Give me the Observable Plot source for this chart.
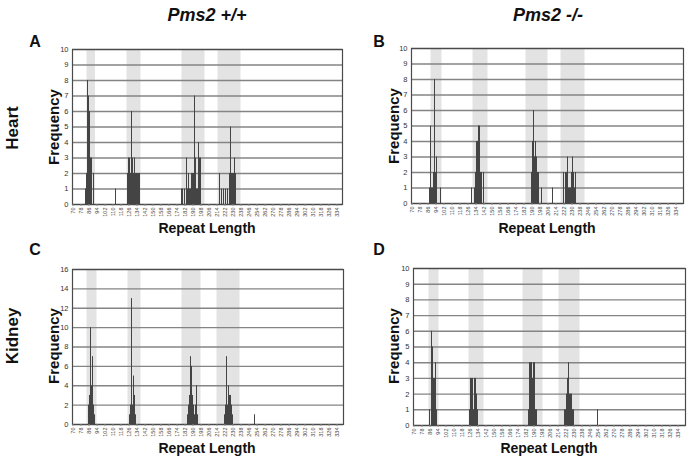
<!DOCTYPE html>
<html><head><meta charset="utf-8">
<script src="https://cdn.jsdelivr.net/npm/d3@7"></script>
<script src="https://cdn.jsdelivr.net/npm/@observablehq/plot@0.6"></script>
<style>
body{margin:0;background:#fff;font-family:"Liberation Sans",Arial,sans-serif;}
#wrap{position:relative;width:689px;height:460px;overflow:hidden;}
.t{position:absolute;font-weight:bold;color:#111;white-space:nowrap;}
.rot{transform:translate(-50%,-50%) rotate(-90deg);}
.ctr{transform:translate(-50%,-50%);}
svg{position:absolute;overflow:visible;}
</style></head><body><div id="wrap"></div>
<script>
// ---- tick labels ----
const xTickLabels = [70,78,86,94,102,110,118,126,134,142,150,158,166,174,182,190,198,206,214,222,230,238,246,254,262,270,278,286,294,302,310,318,326,334];
const yTicksHeart = [0,1,2,3,4,5,6,7,8,9,10];
const yTicksKidneyWT = [0,2,4,6,8,10,12,14,16];
const yTicksKidneyKO = [0,1,2,3,4,5,6,7,8,9,10];

// ---- A: Heart, Pms2 +/+ ----
const aLengths = [83,84,85,86,87,88,89,91,113,125,126,127,128,129,130,131,132,133,134,135,136,137,179,180,182,184,185,186,187,188,189,190,191,192,193,194,195,196,197,198,217,219,221,223,225,227,228,229,230,231,232,233];
const aCounts  = [1,2,8,7,6,3,3,2,1,2,3,3,2,6,3,2,3,2,2,2,2,2,1,1,1,3,1,2,1,1,2,2,2,7,3,1,1,4,3,3,2,1,1,1,1,2,5,2,2,2,3,2];
const aBandStart = [84,124,179,215];
const aBandEnd   = [92.5,138,202,238];

// ---- B: Heart, Pms2 -/- ----
const bLengths = [88,89,90,91,92,93,94,95,99,130,133,134,135,136,137,138,139,140,142,190,191,192,193,194,195,196,197,200,211,222,224,225,226,227,228,229,230,231,232,233,234];
const bCounts  = [1,5,1,1,2,8,2,3,1,1,1,2,4,4,5,5,2,2,2,2,4,6,3,4,3,2,2,1,1,2,2,2,3,1,1,1,2,3,2,1,2];
const bBandStart = [89,131,184,219];
const bBandEnd   = [100,146,206,243];

// ---- C: Kidney, Pms2 +/+ ----
const cLengths = [86,87,88,89,90,91,92,127,128,129,130,131,132,133,185,186,187,188,189,190,191,192,193,194,195,222,223,224,225,226,227,228,229,230,252];
const cCounts  = [2,3,10,4,7,2,1,1,2,13,2,5,3,1,1,2,3,7,6,3,2,1,2,4,1,1,2,7,2,4,3,3,2,1,1];
const cBandStart = [84,125,179,214];
const cBandEnd   = [94,138,198,237];

// ---- D: Kidney, Pms2 -/- ----
const dLengths = [86,88,89,90,91,92,93,126,127,128,129,130,131,132,133,134,185,186,187,188,189,190,191,192,193,221,222,223,224,225,226,227,228,229,230,254];
const dCounts  = [1,6,5,3,3,4,1,1,3,3,3,1,3,3,2,1,1,4,4,4,3,4,4,1,1,1,1,2,3,4,2,2,2,1,1,1];
const dBandStart = [85,125,179,215];
const dBandEnd   = [95,140,199,236];

const wrap = document.getElementById("wrap");
function panel({lengths, counts, bandStart, bandEnd, yTicks, yMax, left, top, plotW, plotH}) {
  const data = lengths.map((v,i)=>({v, f: counts[i]}));
  const bands = bandStart.map((s,i)=>({s, e: bandEnd[i]}));
  const mL = 20, mR = 6, mT = 8, mB = 30;
  const svg = Plot.plot({
    width: plotW + mL + mR, height: plotH + mT + mB,
    marginLeft: mL, marginRight: mR, marginTop: mT, marginBottom: mB,
    style: {fontFamily: "'Liberation Sans', Arial, sans-serif", background: "transparent"},
    x: {type: "linear", domain: [69.5, 69.5 + plotW]},
    y: {domain: [0, yMax]},
    marks: [
      Plot.rect(bands, {x1: "s", x2: "e", y1: d=>0, y2: d=>yMax, fill: "#e3e3e3"}),
      Plot.ruleY(yTicks, {stroke: "#848484", strokeWidth: 1.4}),
      Plot.rect(data, {x1: d=>d.v-0.5, x2: d=>d.v+0.5, y1: d=>0, y2: "f", fill: "#444", inset: 0}),
      Plot.frame({stroke: "#4a4a4a", strokeWidth: 1.2}),
      Plot.axisY(yTicks, {tickSize: 0, tickPadding: 4, fontSize: 7.5, fill: "#333", label: null}),
      Plot.axisX(xTickLabels, {tickSize: 2, tickRotate: -90, fontSize: 5.5, fill: "#444", stroke: "#888", tickPadding: 1, label: null})
    ]
  });
  svg.style.left = (left - mL) + "px";
  svg.style.top = (top - mT) + "px";
  wrap.appendChild(svg);
}
panel({lengths: aLengths, counts: aCounts, bandStart: aBandStart, bandEnd: aBandEnd, yTicks: yTicksHeart, yMax: 10, left: 72, top: 49, plotW: 270, plotH: 155});
panel({lengths: bLengths, counts: bCounts, bandStart: bBandStart, bandEnd: bBandEnd, yTicks: yTicksHeart, yMax: 10, left: 411, top: 48, plotW: 272, plotH: 155});
panel({lengths: cLengths, counts: cCounts, bandStart: cBandStart, bandEnd: cBandEnd, yTicks: yTicksKidneyWT, yMax: 16, left: 72, top: 269, plotW: 271, plotH: 155});
panel({lengths: dLengths, counts: dCounts, bandStart: dBandStart, bandEnd: dBandEnd, yTicks: yTicksKidneyKO, yMax: 10, left: 413, top: 268, plotW: 272, plotH: 157});

function label(text, x, y, size, cls, italic) {
  const d = document.createElement("div");
  d.className = "t " + cls;
  d.textContent = text;
  d.style.left = x + "px"; d.style.top = y + "px";
  d.style.fontSize = size + "px";
  if (italic) d.style.fontStyle = "italic";
  wrap.appendChild(d);
}
label("Pms2 +/+", 207, 15, 18, "ctr", true);
label("Pms2 -/-", 548, 15, 18, "ctr", true);
label("A", 35, 42, 16, "ctr");
label("B", 379, 42, 16, "ctr");
label("C", 35, 250, 16, "ctr");
label("D", 379, 250, 16, "ctr");
label("Heart", 13, 128, 17, "rot");
label("Kidney", 13, 336, 17, "rot");
label("Frequency", 53, 127, 15, "rot");
label("Frequency", 393, 126, 15, "rot");
label("Frequency", 53, 346, 15, "rot");
label("Frequency", 393, 346, 15, "rot");
label("Repeat Length", 207, 228, 14, "ctr");
label("Repeat Length", 547, 228, 14, "ctr");
label("Repeat Length", 207, 448, 14, "ctr");
label("Repeat Length", 549, 448, 14, "ctr");
</script></body></html>
